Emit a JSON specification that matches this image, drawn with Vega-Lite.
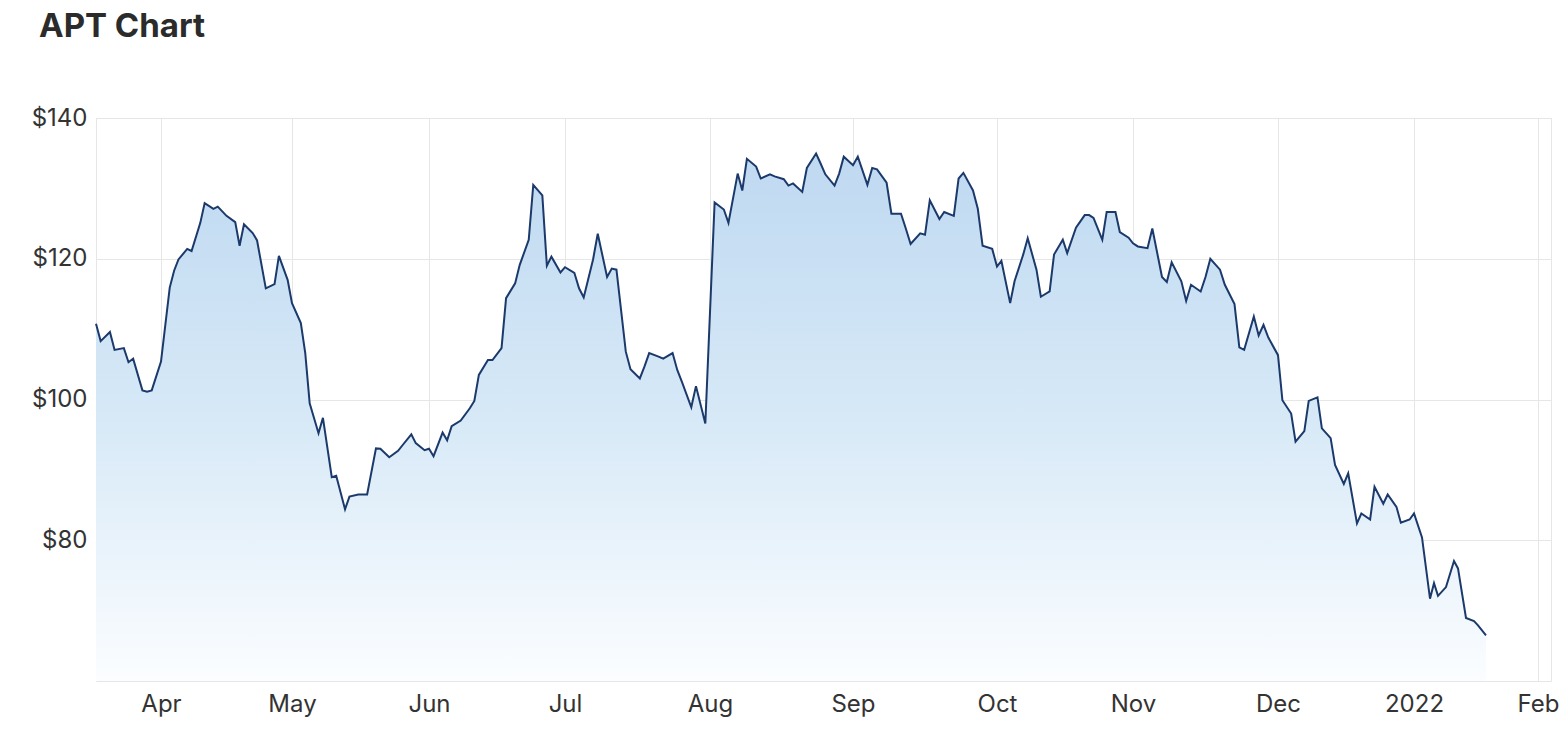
{
  "$schema": "https://vega.github.io/schema/vega-lite/v6.json",
  "width": 1455,
  "height": 563,
  "autosize": {"type": "none"},
  "padding": {"left": 96, "top": 118, "right": 13, "bottom": 64},
  "background": "white",
  "config": {
    "view": {"stroke": "#e6e6e6", "strokeWidth": 1},
    "font": "Inter",
    "axis": {"labelFont": "Inter", "labelColor": "#333333", "labelFontSize": 24, "titleFont": "Inter"}
  },
  "title": {
    "text": "APT Chart",
    "anchor": "start",
    "frame": "group",
    "font": "Inter",
    "fontSize": 33,
    "fontWeight": "bold",
    "color": "#2b2b2b",
    "dx": -57,
    "offset": 62
  },
  "data": {
    "format": {"parse": {"date": "utc:'%Y-%m-%d'"}},
    "values": [
      {"date": "2021-03-18", "price": 110.75},
      {"date": "2021-03-19", "price": 108.3},
      {"date": "2021-03-21", "price": 109.6},
      {"date": "2021-03-22", "price": 107.05},
      {"date": "2021-03-24", "price": 107.3},
      {"date": "2021-03-25", "price": 105.3},
      {"date": "2021-03-26", "price": 105.8},
      {"date": "2021-03-28", "price": 101.3},
      {"date": "2021-03-29", "price": 101.1},
      {"date": "2021-03-30", "price": 101.3},
      {"date": "2021-04-01", "price": 105.4},
      {"date": "2021-04-03", "price": 115.9},
      {"date": "2021-04-04", "price": 118.3},
      {"date": "2021-04-05", "price": 119.9},
      {"date": "2021-04-07", "price": 121.4},
      {"date": "2021-04-08", "price": 121.1},
      {"date": "2021-04-10", "price": 125.1},
      {"date": "2021-04-11", "price": 127.9},
      {"date": "2021-04-13", "price": 127.1},
      {"date": "2021-04-14", "price": 127.4},
      {"date": "2021-04-16", "price": 126.1},
      {"date": "2021-04-18", "price": 125.2},
      {"date": "2021-04-19", "price": 121.85},
      {"date": "2021-04-20", "price": 124.9},
      {"date": "2021-04-22", "price": 123.65},
      {"date": "2021-04-23", "price": 122.6},
      {"date": "2021-04-25", "price": 115.8},
      {"date": "2021-04-27", "price": 116.4},
      {"date": "2021-04-28", "price": 120.4},
      {"date": "2021-04-30", "price": 117.0},
      {"date": "2021-05-01", "price": 113.7},
      {"date": "2021-05-03", "price": 110.85},
      {"date": "2021-05-04", "price": 106.6},
      {"date": "2021-05-05", "price": 99.46},
      {"date": "2021-05-07", "price": 95.2},
      {"date": "2021-05-08", "price": 97.4},
      {"date": "2021-05-10", "price": 88.97},
      {"date": "2021-05-11", "price": 89.15},
      {"date": "2021-05-13", "price": 84.4},
      {"date": "2021-05-14", "price": 86.2},
      {"date": "2021-05-16", "price": 86.5},
      {"date": "2021-05-18", "price": 86.5},
      {"date": "2021-05-20", "price": 93.05},
      {"date": "2021-05-21", "price": 93.0},
      {"date": "2021-05-23", "price": 91.8},
      {"date": "2021-05-25", "price": 92.7},
      {"date": "2021-05-26", "price": 93.5},
      {"date": "2021-05-28", "price": 95.05},
      {"date": "2021-05-29", "price": 93.8},
      {"date": "2021-05-31", "price": 92.8},
      {"date": "2021-06-01", "price": 93.0},
      {"date": "2021-06-02", "price": 91.95},
      {"date": "2021-06-04", "price": 95.3},
      {"date": "2021-06-05", "price": 94.2},
      {"date": "2021-06-06", "price": 96.2},
      {"date": "2021-06-08", "price": 97.0},
      {"date": "2021-06-10", "price": 98.75},
      {"date": "2021-06-11", "price": 99.8},
      {"date": "2021-06-12", "price": 103.5},
      {"date": "2021-06-14", "price": 105.6},
      {"date": "2021-06-15", "price": 105.6},
      {"date": "2021-06-17", "price": 107.3},
      {"date": "2021-06-18", "price": 114.4},
      {"date": "2021-06-20", "price": 116.5},
      {"date": "2021-06-21", "price": 119.1},
      {"date": "2021-06-23", "price": 122.7},
      {"date": "2021-06-24", "price": 130.5},
      {"date": "2021-06-26", "price": 129.0},
      {"date": "2021-06-27", "price": 119.0},
      {"date": "2021-06-28", "price": 120.3},
      {"date": "2021-06-30", "price": 118.05},
      {"date": "2021-07-01", "price": 118.8},
      {"date": "2021-07-03", "price": 118.0},
      {"date": "2021-07-04", "price": 115.8},
      {"date": "2021-07-05", "price": 114.5},
      {"date": "2021-07-07", "price": 119.9},
      {"date": "2021-07-08", "price": 123.55},
      {"date": "2021-07-10", "price": 117.4},
      {"date": "2021-07-11", "price": 118.6},
      {"date": "2021-07-12", "price": 118.45},
      {"date": "2021-07-14", "price": 106.8},
      {"date": "2021-07-15", "price": 104.3},
      {"date": "2021-07-17", "price": 103.0},
      {"date": "2021-07-18", "price": 104.7},
      {"date": "2021-07-19", "price": 106.6},
      {"date": "2021-07-21", "price": 106.1},
      {"date": "2021-07-22", "price": 105.8},
      {"date": "2021-07-24", "price": 106.6},
      {"date": "2021-07-25", "price": 104.2},
      {"date": "2021-07-26", "price": 102.5},
      {"date": "2021-07-28", "price": 98.9},
      {"date": "2021-07-29", "price": 101.9},
      {"date": "2021-07-31", "price": 96.6},
      {"date": "2021-08-02", "price": 128.0},
      {"date": "2021-08-04", "price": 127.0},
      {"date": "2021-08-05", "price": 125.1},
      {"date": "2021-08-07", "price": 132.1},
      {"date": "2021-08-08", "price": 129.7},
      {"date": "2021-08-09", "price": 134.2},
      {"date": "2021-08-11", "price": 133.1},
      {"date": "2021-08-12", "price": 131.4},
      {"date": "2021-08-14", "price": 132.0},
      {"date": "2021-08-15", "price": 131.7},
      {"date": "2021-08-17", "price": 131.3},
      {"date": "2021-08-18", "price": 130.4},
      {"date": "2021-08-19", "price": 130.7},
      {"date": "2021-08-21", "price": 129.5},
      {"date": "2021-08-22", "price": 132.9},
      {"date": "2021-08-24", "price": 134.95},
      {"date": "2021-08-25", "price": 133.5},
      {"date": "2021-08-26", "price": 132.0},
      {"date": "2021-08-28", "price": 130.4},
      {"date": "2021-08-29", "price": 132.1},
      {"date": "2021-08-30", "price": 134.5},
      {"date": "2021-09-01", "price": 133.3},
      {"date": "2021-09-02", "price": 134.5},
      {"date": "2021-09-04", "price": 130.5},
      {"date": "2021-09-05", "price": 132.9},
      {"date": "2021-09-06", "price": 132.7},
      {"date": "2021-09-08", "price": 130.8},
      {"date": "2021-09-09", "price": 126.4},
      {"date": "2021-09-11", "price": 126.4},
      {"date": "2021-09-12", "price": 124.3},
      {"date": "2021-09-13", "price": 122.1},
      {"date": "2021-09-15", "price": 123.6},
      {"date": "2021-09-16", "price": 123.4},
      {"date": "2021-09-17", "price": 128.3},
      {"date": "2021-09-19", "price": 125.65},
      {"date": "2021-09-20", "price": 126.65},
      {"date": "2021-09-22", "price": 126.1},
      {"date": "2021-09-23", "price": 131.4},
      {"date": "2021-09-24", "price": 132.2},
      {"date": "2021-09-26", "price": 129.7},
      {"date": "2021-09-27", "price": 127.1},
      {"date": "2021-09-28", "price": 121.85},
      {"date": "2021-09-30", "price": 121.4},
      {"date": "2021-10-01", "price": 118.9},
      {"date": "2021-10-02", "price": 119.7},
      {"date": "2021-10-04", "price": 113.7},
      {"date": "2021-10-05", "price": 116.8},
      {"date": "2021-10-07", "price": 120.65},
      {"date": "2021-10-08", "price": 122.9},
      {"date": "2021-10-10", "price": 118.45},
      {"date": "2021-10-11", "price": 114.6},
      {"date": "2021-10-13", "price": 115.35},
      {"date": "2021-10-14", "price": 120.6},
      {"date": "2021-10-16", "price": 122.7},
      {"date": "2021-10-17", "price": 120.8},
      {"date": "2021-10-19", "price": 124.4},
      {"date": "2021-10-21", "price": 126.2},
      {"date": "2021-10-22", "price": 126.2},
      {"date": "2021-10-23", "price": 125.8},
      {"date": "2021-10-25", "price": 122.7},
      {"date": "2021-10-26", "price": 126.65},
      {"date": "2021-10-28", "price": 126.65},
      {"date": "2021-10-29", "price": 123.8},
      {"date": "2021-10-31", "price": 123.0},
      {"date": "2021-11-01", "price": 122.2},
      {"date": "2021-11-02", "price": 121.75},
      {"date": "2021-11-04", "price": 121.5},
      {"date": "2021-11-05", "price": 124.3},
      {"date": "2021-11-07", "price": 117.4},
      {"date": "2021-11-08", "price": 116.7},
      {"date": "2021-11-09", "price": 119.5},
      {"date": "2021-11-11", "price": 116.8},
      {"date": "2021-11-12", "price": 114.0},
      {"date": "2021-11-13", "price": 116.3},
      {"date": "2021-11-15", "price": 115.35},
      {"date": "2021-11-16", "price": 117.4},
      {"date": "2021-11-17", "price": 120.0},
      {"date": "2021-11-19", "price": 118.45},
      {"date": "2021-11-20", "price": 116.3},
      {"date": "2021-11-22", "price": 113.55},
      {"date": "2021-11-23", "price": 107.4},
      {"date": "2021-11-24", "price": 107.05},
      {"date": "2021-11-26", "price": 111.8},
      {"date": "2021-11-27", "price": 109.1},
      {"date": "2021-11-28", "price": 110.6},
      {"date": "2021-11-29", "price": 108.8},
      {"date": "2021-12-01", "price": 106.3},
      {"date": "2021-12-02", "price": 99.9},
      {"date": "2021-12-04", "price": 98.0},
      {"date": "2021-12-05", "price": 94.0},
      {"date": "2021-12-07", "price": 95.5},
      {"date": "2021-12-08", "price": 99.8},
      {"date": "2021-12-10", "price": 100.3},
      {"date": "2021-12-11", "price": 95.9},
      {"date": "2021-12-13", "price": 94.5},
      {"date": "2021-12-14", "price": 90.7},
      {"date": "2021-12-16", "price": 88.0},
      {"date": "2021-12-17", "price": 89.5},
      {"date": "2021-12-19", "price": 82.4},
      {"date": "2021-12-20", "price": 83.8},
      {"date": "2021-12-22", "price": 82.95},
      {"date": "2021-12-23", "price": 87.6},
      {"date": "2021-12-25", "price": 85.2},
      {"date": "2021-12-26", "price": 86.5},
      {"date": "2021-12-28", "price": 84.75},
      {"date": "2021-12-29", "price": 82.5},
      {"date": "2021-12-31", "price": 82.95},
      {"date": "2022-01-01", "price": 83.8},
      {"date": "2022-01-03", "price": 80.4},
      {"date": "2022-01-05", "price": 71.7},
      {"date": "2022-01-06", "price": 73.9},
      {"date": "2022-01-07", "price": 72.1},
      {"date": "2022-01-09", "price": 73.35},
      {"date": "2022-01-11", "price": 77.05},
      {"date": "2022-01-12", "price": 76.0},
      {"date": "2022-01-14", "price": 68.95},
      {"date": "2022-01-16", "price": 68.5},
      {"date": "2022-01-17", "price": 67.9},
      {"date": "2022-01-19", "price": 66.5}
    ]
  },
  "encoding": {
    "x": {
      "field": "date",
      "type": "quantitative",
      "title": null,
      "scale": {
        "nice": false,
        "zero": false,
        "domain": [1616025600000, 1617235200000, 1619827200000, 1622505600000, 1625097600000, 1627776000000, 1630454400000, 1633046400000, 1635724800000, 1638316800000, 1640995200000, 1643673600000, 1643932800000],
        "range": [0, 65, 196, 333, 469, 614, 757, 901, 1037, 1182, 1318, 1442, 1455]
      },
      "axis": {
        "values": [1617235200000, 1619827200000, 1622505600000, 1625097600000, 1627776000000, 1630454400000, 1633046400000, 1635724800000, 1638316800000, 1640995200000, 1643673600000],
        "labelExpr": "utcFormat(datum.value, '%m') == '01' ? utcFormat(datum.value, '%Y') : utcFormat(datum.value, '%b')",
        "grid": true,
        "gridColor": "#e6e6e6",
        "domain": false,
        "ticks": false,
        "labelPadding": 11,
        "labelFlush": false,
        "labelOverlap": false
      }
    },
    "y": {
      "field": "price",
      "type": "quantitative",
      "title": null,
      "scale": {"domain": [60, 140], "nice": false, "zero": false},
      "axis": {
        "values": [80, 100, 120, 140],
        "labelExpr": "'$' + datum.value",
        "grid": true,
        "gridColor": "#e6e6e6",
        "domain": false,
        "ticks": false,
        "labelPadding": 9
      }
    }
  },
  "layer": [
    {
      "mark": {
        "type": "area",
        "color": {
          "gradient": "linear",
          "x1": 0, "y1": 0, "x2": 0, "y2": 1,
          "stops": [
            {"offset": 0, "color": "#bfd9f1"},
            {"offset": 0.5, "color": "#d7e9f7"},
            {"offset": 1, "color": "#fbfdff"}
          ]
        }
      },
      "encoding": {"y2": {"datum": 60}}
    },
    {
      "mark": {"type": "line", "color": "#1b3a6b", "strokeWidth": 2}
    }
  ]
}
